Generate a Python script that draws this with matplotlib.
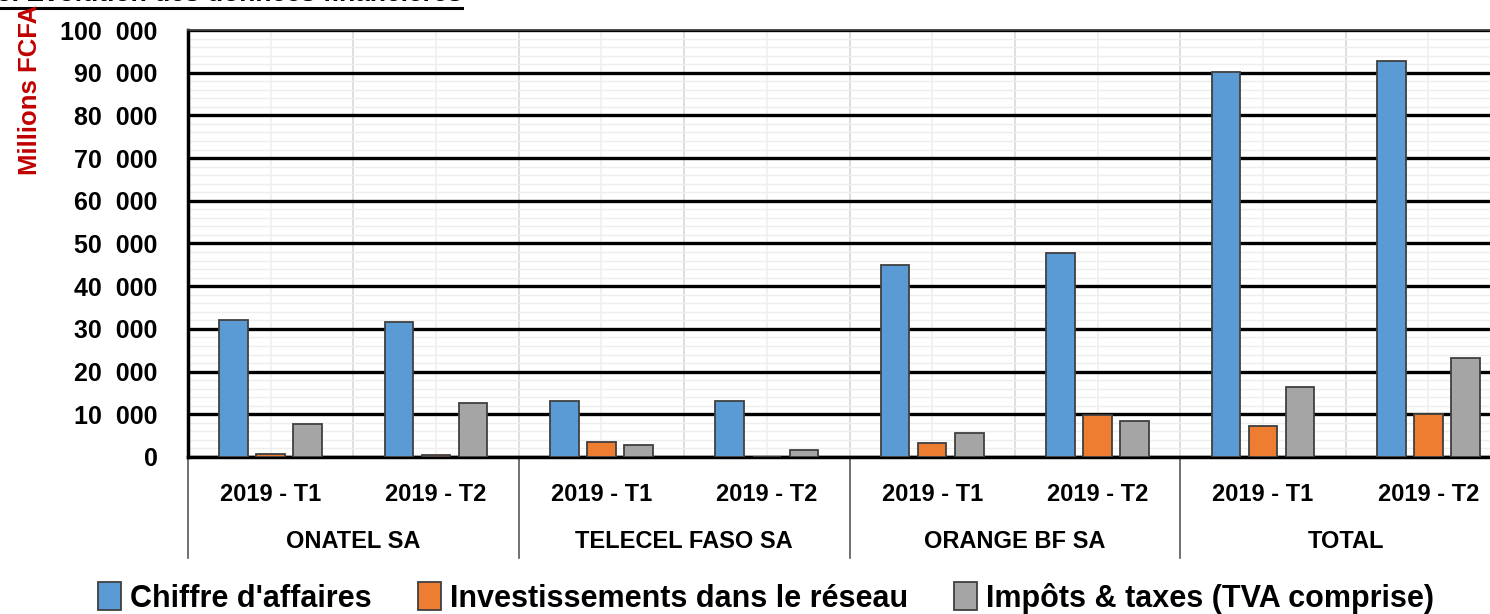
import numpy as np
import matplotlib.pyplot as plt
import matplotlib.transforms as mtransforms
from matplotlib.ticker import FuncFormatter, MultipleLocator

plt.rcParams['font.family'] = ['Liberation Sans Narrow', 'Liberation Sans', 'DejaVu Sans']
plt.rcParams['font.weight'] = 'bold'

operators = ["ONATEL SA", "TELECEL FASO SA", "ORANGE BF SA", "TOTAL"]
periods = ["2019 - T1", "2019 - T2"]
series_names = ["Chiffre d'affaires", "Investissements dans le réseau",
                "Impôts & taxes (TVA comprise)"]
chiffre_affaires = [32000, 31600, 13000, 13000, 44900, 47800, 90100, 92700]
investissements = [600, 400, 3400, 0, 3350, 9800, 7300, 10100]
impots_taxes = [7700, 12700, 2800, 1700, 5700, 8500, 16400, 23100]
colors = ["#5B9BD5", "#ED7D31", "#A5A5A5"]

W, H = 1490, 614
fig = plt.figure(figsize=(W / 100, H / 100), dpi=100)
ax = fig.add_axes([188 / W, 1 - 457 / H, 1323 / W, 427 / H])

n = len(operators) * len(periods)
x = np.arange(n)
width, step = 0.173, 0.224
for i, (vals, name, c) in enumerate(zip([chiffre_affaires, investissements, impots_taxes],
                                         series_names, colors)):
    ax.bar(x + (i - 1) * step, vals, width, color=c, edgecolor="#404040",
           linewidth=1.3, label=name, zorder=3)

ax.set_xlim(-0.5, n - 0.5)
ax.set_ylim(0, 100000)
ax.yaxis.set_major_locator(MultipleLocator(10000))
ax.yaxis.set_minor_locator(MultipleLocator(2000))
ax.yaxis.set_major_formatter(FuncFormatter(lambda v, p: f"{v:,.0f}".replace(",", "  ")))
ax.set_xticks(x)
ax.set_xticks(np.arange(-0.5, n, 1.0), minor=True)
ax.set_xticklabels(periods * len(operators))

ax.grid(axis='y', which='major', color='black', lw=2.4, zorder=2)
ax.grid(axis='y', which='minor', color='#eeeeee', lw=1.0, zorder=0)
ax.grid(axis='x', which='major', color='#f0f0f0', lw=1.2, zorder=0)
ax.grid(axis='x', which='minor', color='#d9d9d9', lw=1.2, zorder=1)
ax.set_axisbelow(True)

ax.tick_params(axis='x', which='both', length=0, labelsize=17, pad=19)
ax.tick_params(axis='y', which='major', length=0, labelsize=18, pad=22)
ax.tick_params(axis='y', which='minor', length=0)

for s in ['left', 'bottom']:
    ax.spines[s].set_linewidth(2.5)
    ax.spines[s].set_color('black')
ax.spines['top'].set_linewidth(1.3)
ax.spines['top'].set_color('#404040')
ax.spines['right'].set_visible(False)

trans = mtransforms.blended_transform_factory(ax.transData, ax.transAxes)
for k, op in enumerate(operators):
    ax.text(2 * k + 0.5, -(541 - 457) / 427, op, transform=trans, ha='center',
            va='center', fontsize=17, fontweight='bold')
for b in np.arange(-0.5, n, 2.0):
    ax.plot([b, b], [0, -(558 - 457) / 427], transform=trans, clip_on=False,
            color='#595959', lw=1.2)

fig.text(30 / W, 1 - 5 / H, "Millions FCFA", rotation=90, va='top', ha='center',
         color='#C00000', fontsize=18.5, fontweight='bold')

# section title, cut off at the top edge as in the source document
fig.text(-3 / W, 1 - 1 / H, "5. Evolution des données financières", va='baseline',
         ha='left', fontsize=19, fontweight='bold')
fig.add_artist(plt.Line2D([0, 462 / W], [1 - 8 / H, 1 - 8 / H], color='black', lw=2.2))

fig.legend(loc='center', bbox_to_anchor=(766 / W, 1 - 598 / H), ncol=3, frameon=False,
           fontsize=22, handlelength=0.75, handleheight=1.0, columnspacing=1.5,
           handletextpad=0.3)

fig.savefig("out.png", dpi=100)
